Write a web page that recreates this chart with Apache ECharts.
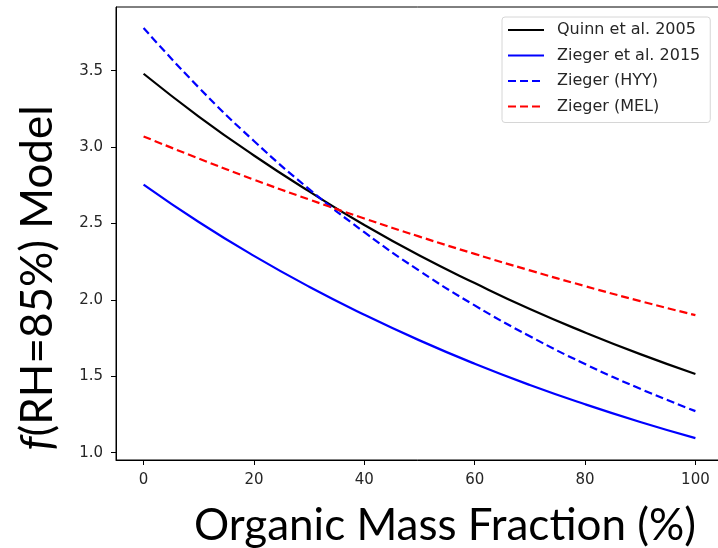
<!DOCTYPE html>
<html>
<head>
<meta charset="utf-8">
<script src="https://cdn.jsdelivr.net/npm/echarts@6/dist/echarts.min.js"></script>
<style>html,body{margin:0;padding:0;background:#fff;}#c{width:718px;height:548px;}</style>
</head>
<body>
<div id="c"></div>
<script>
const xValues = [0, 10, 20, 30, 40, 50, 60, 70, 80, 90, 100];
const quinn2005 = [3.48, 3.20, 2.945, 2.71, 2.49, 2.29, 2.11, 1.94, 1.787, 1.645, 1.515];
const zieger2015 = [2.755, 2.51, 2.288, 2.086, 1.903, 1.735, 1.582, 1.443, 1.317, 1.201, 1.095];
const ziegerHYY = [3.78, 3.39, 3.04, 2.725, 2.443, 2.19, 1.964, 1.762, 1.58, 1.418, 1.272];
const ziegerMEL = [3.07, 2.925, 2.787, 2.657, 2.533, 2.414, 2.301, 2.193, 2.09, 1.992, 1.90];
const xTicks = [0, 20, 40, 60, 80, 100];
const yTicks = [1.0, 1.5, 2.0, 2.5, 3.0, 3.5];
const seriesNames = ['Quinn et al. 2005', 'Zieger et al. 2015', 'Zieger (HYY)', 'Zieger (MEL)'];

function pairs(ys) { return xValues.map((x, i) => [x, ys[i]]); }

const chart = echarts.init(document.getElementById('c'));
const tickFont = { fontFamily: 'DejaVu Sans', fontSize: 15, color: '#262626' };
chart.setOption({
  animation: false,
  backgroundColor: '#fff',
  grid: { left: 116, width: 607, top: 7, height: 453, outerBoundsMode: 'none', containLabel: false, show: true, borderColor: '#000', borderWidth: 1, backgroundColor: 'transparent' },
  xAxis: {
    type: 'value', min: -5, max: 105,
    axisLine: { show: true, onZero: false, lineStyle: { color: '#000', width: 1 } },
    axisTick: { show: true, length: 5, customValues: xTicks, lineStyle: { color: '#000' } },
    axisLabel: Object.assign({ customValues: xTicks, margin: 13, formatter: v => String(v) }, tickFont),
    splitLine: { show: false }
  },
  yAxis: {
    type: 'value', min: 0.952, max: 3.917,
    axisLine: { show: true, onZero: false, lineStyle: { color: '#000', width: 1 } },
    axisTick: { show: true, length: 5, customValues: yTicks, lineStyle: { color: '#000' } },
    axisLabel: Object.assign({ customValues: yTicks, margin: 13, formatter: v => v.toFixed(1) }, tickFont),
    splitLine: { show: false }
  },
  legend: {
    orient: 'vertical', left: 502, top: 17,
    data: seriesNames,
    itemWidth: 36, itemHeight: 16, itemGap: 9.5,
    padding: [5, 10, 8, 5],
    itemStyle: { opacity: 0, borderWidth: 0 },
    backgroundColor: 'rgba(255,255,255,0.85)', borderColor: '#d6d6d6', borderWidth: 1, borderRadius: 3,
    textStyle: { fontFamily: 'DejaVu Sans', fontSize: 16, color: '#262626', padding: [0, 0, 0, 8] }
  },
  series: [
    { name: seriesNames[0], type: 'line', data: pairs(quinn2005), smooth: true, symbol: 'none', lineStyle: { color: '#000000', width: 2.2 }, itemStyle: { color: '#000000' } },
    { name: seriesNames[1], type: 'line', data: pairs(zieger2015), smooth: true, symbol: 'none', lineStyle: { color: '#0000ff', width: 2.2 }, itemStyle: { color: '#0000ff' } },
    { name: seriesNames[2], type: 'line', data: pairs(ziegerHYY), smooth: true, symbol: 'none', lineStyle: { color: '#0000ff', width: 2.2, type: [8, 4] }, itemStyle: { color: '#0000ff' } },
    { name: seriesNames[3], type: 'line', data: pairs(ziegerMEL), smooth: true, symbol: 'none', lineStyle: { color: '#ff0000', width: 2.2, type: [8, 4] }, itemStyle: { color: '#ff0000' } }
  ],
  graphic: [
    { type: 'text', x: 445, y: 526, style: { text: 'Organic Mass Fraction (%)', fontFamily: 'Lato', fontSize: 44, fill: '#000', textAlign: 'center', textVerticalAlign: 'middle' } },
    { type: 'text', x: 38, y: 278, rotation: Math.PI / 2, style: {
        text: '{i|f}(RH=85%) Model', fontFamily: 'Lato', fontSize: 44, fill: '#000', textAlign: 'center', textVerticalAlign: 'middle',
        rich: { i: { fontFamily: 'Lato', fontStyle: 'italic', fontSize: 44, fill: '#000' } } } }
  ]
});
</script>
</body>
</html>
